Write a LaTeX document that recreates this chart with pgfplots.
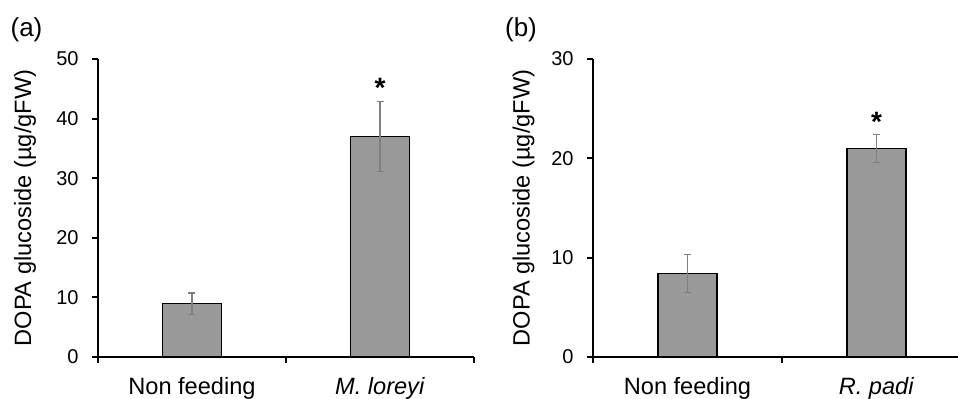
\documentclass[border=0pt]{standalone}
\usepackage{pgfplots}
\pgfplotsset{compat=1.18}
\usepackage{fontspec}
\setmainfont{Liberation Sans}
\definecolor{barfill}{RGB}{153,153,153}
\definecolor{errcol}{RGB}{128,128,128}
\pgfplotsset{
  panel/.style={
    scale only axis,
    width=188pt, height=149pt,
    anchor=south west,
    axis x line=bottom, axis y line=left,
    axis line style={-, line width=1pt, black},
    xmin=-0.5, xmax=1.5,
    ymin=0,
    xtick={0,1},
    xtick style={draw=none},
    xtick align=inside,
    extra x ticks={-0.5,0.5,1.5},
    extra x tick labels={},
    extra x tick style={xtick align=outside, xtick style={draw=black, line width=1pt}},
    ytick align=outside,
    ytick style={line width=1pt, black},
    major tick length=3pt,
    /pgf/number format/assume math mode=true,
    xticklabel style={font=\fontsize{11.8}{13}\selectfont, anchor=north, inner sep=0pt, yshift=-7pt},
    yticklabel style={font=\fontsize{10}{12}\selectfont, anchor=east, inner sep=0pt, xshift=-6.5pt},
    ybar, bar width=29.5pt,
    clip=false,
  },
  bars/.style={
    fill=barfill, draw=black, line width=0.75pt,
    error bars/.cd, y dir=both, y explicit,
    error bar style={errcol, line width=0.75pt},
    error mark options={rotate=90, mark size=1.75pt, errcol, line width=0.75pt},
  },
}
\begin{document}
\begin{tikzpicture}
\useasboundingbox (0pt,0pt) rectangle (479pt,199pt);
\node[font=\fontsize{13}{15}\selectfont] at (13.25pt,184pt) {(a)};
\node[font=\fontsize{13}{15}\selectfont] at (260.5pt,184pt) {(b)};
\begin{axis}[panel, at={(49pt,20.5pt)},
  ymax=50, ytick={0,10,20,30,40,50},
  xticklabels={Non feeding, \textit{M. loreyi}},
  ylabel={DOPA glucoside (µg/gFW)},
  ylabel style={at={(axis description cs:-0.194,0.5)}, rotate=0, anchor=center, font=\fontsize{11.8}{13}\selectfont},
]
\addplot[bars] coordinates {(0,8.95) +- (0,1.8) (1,37.0) +- (0,5.9)};
\node[anchor=base, font=\fontsize{14}{14}\selectfont\bfseries] at (axis cs:1,43.5) {*};
\end{axis}
\begin{axis}[panel, at={(296.5pt,20.5pt)}, width=189pt,
  ymax=30, ytick={0,10,20,30},
  xticklabels={Non feeding, \textit{R. padi}},
  ylabel={DOPA glucoside (µg/gFW)},
  ylabel style={at={(axis description cs:-0.184,0.5)}, rotate=0, anchor=center, font=\fontsize{11.8}{13}\selectfont},
]
\addplot[bars] coordinates {(0,8.4) +- (0,1.9) (1,21.0) +- (0,1.4)};
\node[anchor=base, font=\fontsize{14}{14}\selectfont\bfseries] at (axis cs:1,22.7) {*};
\end{axis}
\end{tikzpicture}
\end{document}
